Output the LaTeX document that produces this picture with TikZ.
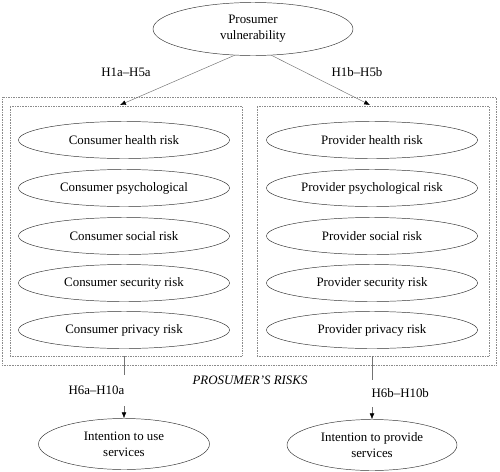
\documentclass[tikz,border=0pt]{standalone}
\usepackage{fontspec}
\setmainfont{Liberation Serif}
\usetikzlibrary{shapes.geometric,arrows.meta}

\tikzset{
  construct/.style={ellipse, draw=black!80, thin, inner sep=0pt, align=center},
  risk/.style={construct, minimum width=6.33cm, minimum height=1.11cm},
  grp/.style={draw=black!45, densely dotted, inner sep=0pt},
  conn/.style={draw=black!55, thin, -{Latex[length=5pt,width=4pt,black]}},
  hyp/.style={fill=white, inner sep=2pt}
}

\begin{document}
\begin{tikzpicture}[x=0.03cm, y=-0.03cm, font=\fontsize{11}{13.6}\selectfont]
  \useasboundingbox (0,0) rectangle (500,471);

  % groups
  \node[grp, minimum width=14.82cm, minimum height=8.04cm] (allBox) at (249,231) {};
  \node[grp, minimum width=6.96cm, minimum height=7.5cm] (consBox) at (126,231) {};
  \node[grp, minimum width=6.96cm, minimum height=7.5cm] (provBox) at (373,231) {};

  \node[construct, minimum width=6cm, minimum height=1.59cm] (vuln) at (253,29) {Prosumer\\vulnerability};

  \node[risk] (cHealth) at (124,140) {Consumer health risk};
  \node[risk] (cPsych) at (124,188) {Consumer psychological};
  \node[risk] (cSocial) at (124,236) {Consumer social risk};
  \node[risk] (cSecur) at (124,283) {Consumer security risk};
  \node[risk] (cPriv) at (124,330) {Consumer privacy risk};

  \node[risk] (pHealth) at (372,140) {Provider health risk};
  \node[risk] (pPsych) at (372,188) {Provider psychological risk};
  \node[risk] (pSocial) at (372,236) {Provider social risk};
  \node[risk] (pSecur) at (372,283) {Provider security risk};
  \node[risk] (pPriv) at (372,330) {Provider privacy risk};

  \node (riskLab) at (250,380) {\itshape PROSUMER'S RISKS};

  \node[construct, minimum width=5.13cm, minimum height=1.53cm] (useInt) at (124,444) {Intention to use\\services};
  \node[construct, minimum width=5.1cm, minimum height=1.53cm] (provInt) at (372,445) {Intention to provide\\services};

  \coordinate (consTip) at (120,105);
  \coordinate (provTip) at (370,105);

  \begin{scope}
    \draw[conn] (vuln.235) -- (consTip);
    \draw[conn] (vuln.305) -- (provTip);
    \node (hA) at (126,72) {H1a--H5a};
    \node (hB) at (357,72) {H1b--H5b};
    \draw[conn] (consBox.south -| useInt.north) -- (useInt.north)
      node[hyp, pos=0.55, anchor=east, xshift=2.5pt, minimum height=0.95cm] {H6a--H10a};
    \draw[conn] (provBox.south -| provInt.north) -- (provInt.north)
      node[hyp, pos=0.59, anchor=west, xshift=-2.5pt, minimum height=0.8cm] {H6b--H10b};
  \end{scope}
\end{tikzpicture}
\end{document}
